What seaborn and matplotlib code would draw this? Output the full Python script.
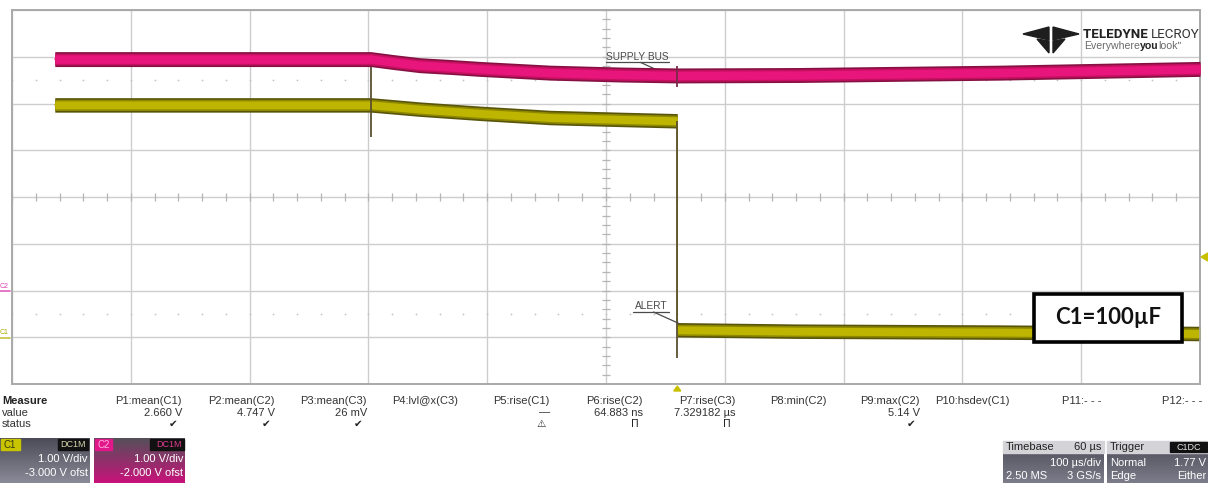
import numpy as np
import matplotlib
matplotlib.use("Agg")
import matplotlib.pyplot as plt
import seaborn as sns
from matplotlib.patches import Rectangle, Polygon
from matplotlib.colors import LinearSegmentedColormap

# ---- acquisition data (time in microseconds, trigger at t = 0) ----
supply_t = [-524, -258, -240, -217, -190, -166, -107, -48, 0, 103, 272, 440]
supply_v = [4.95, 4.95, 4.89, 4.82, 4.78, 4.74, 4.66, 4.62, 4.60, 4.61, 4.66, 4.74]   # C2, V

alert_t = [-524, -258, -235, -217, -166, -107, -48, 0, 0, 100, 272, 440]
alert_v = [4.97, 4.97, 4.92, 4.88, 4.79, 4.70, 4.66, 4.63, 0.16, 0.13, 0.11, 0.08]    # C1, V

# narrow glitches (channel, time, low V, high V)
glitch_ch = ["C1", "C1", "C2"]
glitch_t = [-258, 0, 0]
glitch_lo = [4.28, -0.44, 4.35]
glitch_hi = [6.08, 4.63, 4.80]

trigger_level_c1 = 1.77

# ---- measurement readout ----
meas_names = ["P1:mean(C1)", "P2:mean(C2)", "P3:mean(C3)", "P4:lvl@x(C3)", "P5:rise(C1)",
              "P6:rise(C2)", "P7:rise(C3)", "P8:min(C2)", "P9:max(C2)", "P10:hsdev(C1)",
              "P11:- - -", "P12:- - -"]
meas_values = ["2.660 V", "4.747 V", "26 mV", "", "\u2014", "64.883 ns", "7.329182 \u00b5s",
               "", "5.14 V", "", "", ""]
meas_status = ["\u2714", "\u2714", "\u2714", "", "\u26a0", "\u03a0", "\u03a0", "", "\u2714", "", "", ""]

# ---- channel / timebase settings ----
c1_scale, c1_offset = "1.00 V/div", "-3.000 V ofst"
c2_scale, c2_offset = "1.00 V/div", "-2.000 V ofst"
tb_delay, tb_scale, tb_points, tb_rate = "60 \u00b5s", "100 \u00b5s/div", "2.50 MS", "3 GS/s"
trig_mode, trig_level, trig_type, trig_slope = "Normal", "1.77 V", "Edge", "Either"

sns.set_style("white")
plt.rcParams["font.family"] = ["Liberation Sans", "DejaVu Sans"]

W, H = 1208, 483
fig = plt.figure(figsize=(W / 100, H / 100), dpi=100)
fig.patch.set_facecolor("white")

L, R, T, B = 12, 1200, 10, 384
ax = fig.add_axes([L / W, 1 - B / H, (R - L) / W, (B - T) / H])
ax2 = ax.twinx()

x0, x1 = -560, 440
ax.set_xlim(x0, x1)
ax.set_ylim(-1, 7)     # C1: 1 V/div, -3 V offset
ax2.set_ylim(-2, 6)    # C2: 1 V/div, -2 V offset

grid_c = "#cdcdcd"
ax.set_xticks(np.arange(x0, x1 + 1, 100))
ax.set_yticks(np.arange(-1, 8, 1))
ax.grid(True, color=grid_c, lw=1.0)
ax.tick_params(length=0, labelbottom=False, labelleft=False)
ax2.set_yticks([])
ax2.tick_params(length=0, labelright=False)
for a in (ax, ax2):
    for s in a.spines.values():
        s.set_color("#a9a9a9")
        s.set_linewidth(1.2)

# centre-axis minor ticks
xc, yc = -60, 3
tt = np.arange(x0, x1 + 1, 20)
ax.vlines(tt, yc - 0.08, yc + 0.08, color="#b5b5b5", lw=0.9)
vv = np.arange(-1, 7.01, 0.2)
ax.hlines(vv, xc - 3.5, xc + 3.5, color="#b5b5b5", lw=0.9)

# dotted reference rows
for lvl in (5.5, 0.5):
    ax.scatter(tt, np.full(tt.shape, lvl), s=1.6, color="#c4c4c4", lw=0, zorder=2)

# ---- traces ----
sv = np.array(supply_v)
ax2.fill_between(supply_t, sv - 0.16, sv + 0.16, color="#861043", lw=0, zorder=3)
ax2.fill_between(supply_t, sv - 0.125, sv + 0.125, color="#c4105f", lw=0, zorder=4)
ax2.fill_between(supply_t, sv - 0.09, sv + 0.09, color="#e8157c", lw=0, zorder=4)
sns.lineplot(x=supply_t, y=supply_v, ax=ax2, color="#e8157c", lw=1.0,
             estimator=None, sort=False, zorder=5)

av = np.array(alert_v)
ax.fill_between(alert_t, av - 0.155, av + 0.155, color="#58540a", lw=0, zorder=3)
ax.fill_between(alert_t, av - 0.12, av + 0.12, color="#8e8800", lw=0, zorder=4)
ax.fill_between(alert_t, av - 0.085, av + 0.085, color="#bdb500", lw=0, zorder=4)
sns.lineplot(x=alert_t, y=alert_v, ax=ax, color="#bdb500", lw=1.0,
             estimator=None, sort=False, zorder=5)

for ch, t, lo, hi in zip(glitch_ch, glitch_t, glitch_lo, glitch_hi):
    target = ax if ch == "C1" else ax2
    target.vlines(t, lo, hi, color="#5a5030" if ch == "C1" else "#7a2a4a", lw=1.3, zorder=6)

# ---- trace labels ----
lab_c = "#4a4a4a"
ax.text(-60, 6.0, "SUPPLY BUS", fontsize=7.3, color=lab_c, va="center", ha="left", zorder=7)
ax.plot([-60, -7], [5.88, 5.88], color=lab_c, lw=0.9, zorder=7)
ax.plot([-31, -13], [5.88, 5.67], color=lab_c, lw=0.9, zorder=7)

ax.text(-36, 0.67, "ALERT", fontsize=7.3, color=lab_c, va="center", ha="left", zorder=7)
ax.plot([-37, -7], [0.54, 0.54], color=lab_c, lw=0.9, zorder=7)
ax.plot([-20, 1], [0.54, 0.30], color=lab_c, lw=0.9, zorder=7)

# ---- pixel overlay for screen furniture ----
ov = fig.add_axes([0, 0, 1, 1], zorder=10)
ov.axis("off")
ov.set_xlim(0, W)
ov.set_ylim(H, 0)
renderer = fig.canvas.get_renderer()


def text_run(x, y, parts, **kw):
    """Place consecutive text pieces (string, weight, colour) left to right."""
    for s, weight, col in parts:
        t = ov.text(x, y, s, fontweight=weight, color=col, va="center", ha="left", **kw)
        bb = t.get_window_extent(renderer=renderer)
        x += bb.width * W / fig.bbox.width


# channel ground markers on the left edge
ov.text(0, 287, "C2", fontsize=5, color="#e040b0", va="center", ha="left")
ov.plot([0, 10], [291, 291], color="#e060c0", lw=1.2)
ov.text(0, 332, "C1", fontsize=5, color="#b0a800", va="center", ha="left")
ov.plot([0, 10], [338, 338], color="#c8c040", lw=1.2)

# trigger markers
ov.add_patch(Polygon([(1201, 257), (1208, 253), (1208, 261)], closed=True, color="#c8c000"))
trig_px = L + (0 - x0) / (x1 - x0) * (R - L)
ov.add_patch(Polygon([(trig_px - 3.5, 391), (trig_px + 3.5, 391), (trig_px, 386)], closed=True, color="#c8c000"))

# logo
logo_c = "#1e1e1e"
ov.add_patch(Polygon([(1023, 34), (1049, 27), (1049, 40)], closed=True, color=logo_c))
ov.add_patch(Polygon([(1079, 34), (1053, 27), (1053, 40)], closed=True, color=logo_c))
ov.add_patch(Polygon([(1037, 39), (1049, 41), (1049, 53)], closed=True, color=logo_c))
ov.add_patch(Polygon([(1065, 39), (1053, 41), (1053, 53)], closed=True, color=logo_c))
text_run(1083, 34, [("TELEDYNE ", "bold", "#222222"), ("LECROY", "normal", "#333333")],
         fontsize=9.6, family=["Roboto", "DejaVu Sans"])
text_run(1084, 46, [("Everywhere", "normal", "#6a6a6a"), ("you", "bold", "#222222"),
                    ("look\u02ba", "normal", "#6a6a6a")], fontsize=7.6)

# capacitor tag
ov.add_patch(Rectangle((1034, 294), 148, 48, facecolor="white", edgecolor="black", lw=2.6))
ov.text(1108, 318, "C1=100\u00b5F", fontsize=16, fontweight="bold", color="#111111",
        va="center", ha="center", family=["Lato", "DejaVu Sans"])

# measurement table
tx_c = "#333333"
ov.text(2, 401, "Measure", fontsize=8, fontweight="bold", color="#222222", va="center", ha="left")
ov.text(2, 412.5, "value", fontsize=8, color=tx_c, va="center", ha="left")
ov.text(2, 424, "status", fontsize=8, color=tx_c, va="center", ha="left")
col_right = [182, 275, 367, 458, 550, 643, 735, 827, 920, 1010, 1102, 1202]
for xr, name, val, st in zip(col_right, meas_names, meas_values, meas_status):
    ov.text(xr, 401, name, fontsize=8, color=tx_c, va="center", ha="right")
    if val:
        ov.text(xr, 412.5, val, fontsize=8, color=tx_c, va="center", ha="right")
    if st:
        ov.text(xr - 4, 424, st, fontsize=7.5, color="#222222", va="center", ha="right",
                family=["DejaVu Sans"])


def gradient_box(x_a, y_a, x_b, y_b, c_top, c_bot):
    cmap = LinearSegmentedColormap.from_list("g", [c_top, c_bot])
    ov.imshow(np.linspace(0, 1, 64).reshape(-1, 1), cmap=cmap, aspect="auto",
              extent=(x_a, x_b, y_b, y_a), interpolation="bilinear", zorder=1)


# channel descriptors
gradient_box(0, 438, 90, 483, "#4c4c58", "#8a8a98")
ov.add_patch(Rectangle((1, 439), 19, 11, color="#c8c400", zorder=2))
ov.text(3, 444.5, "C1", fontsize=7, color="#3a3a10", va="center", ha="left", zorder=3)
ov.add_patch(Rectangle((58, 439), 30, 11, color="#111111", zorder=2))
ov.text(86, 444.5, "DC1M", fontsize=6.5, color="#d8d8b0", va="center", ha="right", zorder=3)
ov.text(88, 459, c1_scale, fontsize=8, color="white", va="center", ha="right", zorder=3)
ov.text(88, 473, c1_offset, fontsize=8, color="white", va="center", ha="right", zorder=3)

gradient_box(94, 438, 185, 483, "#55505a", "#c8127a")
ov.add_patch(Rectangle((95, 439), 17, 11, color="#e0188a", zorder=2))
ov.text(97, 444.5, "C2", fontsize=7, color="#ffb0e0", va="center", ha="left", zorder=3)
ov.add_patch(Rectangle((150, 439), 34, 11, color="#111111", zorder=2))
ov.text(182, 444.5, "DC1M", fontsize=6.5, color="#e03a90", va="center", ha="right", zorder=3)
ov.text(183, 459, c2_scale, fontsize=8, color="white", va="center", ha="right", zorder=3)
ov.text(183, 473, c2_offset, fontsize=8, color="white", va="center", ha="right", zorder=3)

# timebase descriptor
ov.add_patch(Rectangle((1003, 441), 101, 12, color="#d4d4d8", zorder=2))
gradient_box(1003, 453, 1104, 483, "#5a5a66", "#7c7c8a")
ov.text(1006, 447, "Timebase", fontsize=8, color="#222222", va="center", ha="left", zorder=3)
ov.text(1101, 447, tb_delay, fontsize=8, color="#222222", va="center", ha="right", zorder=3)
ov.text(1101, 463, tb_scale, fontsize=8, color="white", va="center", ha="right", zorder=3)
ov.text(1006, 476, tb_points, fontsize=8, color="white", va="center", ha="left", zorder=3)
ov.text(1101, 476, tb_rate, fontsize=8, color="white", va="center", ha="right", zorder=3)

# trigger descriptor
ov.add_patch(Rectangle((1107, 441), 101, 12, color="#d4d4d8", zorder=2))
gradient_box(1107, 453, 1208, 483, "#5a5a66", "#7c7c8a")
ov.text(1110, 447, "Trigger", fontsize=8, color="#222222", va="center", ha="left", zorder=3)
ov.add_patch(Rectangle((1170, 442), 37, 10, color="#111111", zorder=3))
ov.text(1188.5, 447, "C1DC", fontsize=6.5, color="#e8e8e8", va="center", ha="center", zorder=4)
ov.text(1110, 463, trig_mode, fontsize=8, color="white", va="center", ha="left", zorder=3)
ov.text(1206, 463, trig_level, fontsize=8, color="white", va="center", ha="right", zorder=3)
ov.text(1110, 476, trig_type, fontsize=8, color="white", va="center", ha="left", zorder=3)
ov.text(1206, 476, trig_slope, fontsize=8, color="white", va="center", ha="right", zorder=3)

ov.set_xlim(0, W)
ov.set_ylim(H, 0)

fig.savefig("out.png", dpi=100, facecolor="white")
